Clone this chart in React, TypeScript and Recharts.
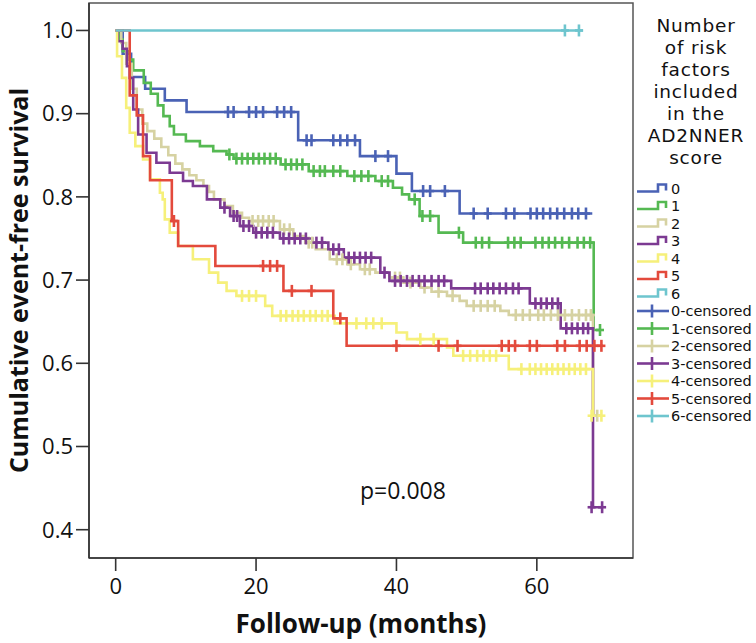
import React from 'react';
import { ComposedChart, Line, Scatter, XAxis, YAxis, ReferenceArea } from 'recharts';

// ---- data (time in months, cumulative event-free survival) ----
const groupNames = ['0', '1', '2', '3', '4', '5', '6'];
const groupColors = ['#4a62b5', '#55b952', '#d6d2a2', '#7c3a92', '#f6f07a', '#e34a3c', '#6ec5ce'];

const xTicks = [0, 20, 40, 60];
const yTicks = [0.4, 0.5, 0.6, 0.7, 0.8, 0.9, 1.0];

const legendTitle = ['Number', 'of risk', 'factors', 'included', 'in the', 'AD2NNER', 'score'];
const pValueText = 'p=0.008';

const g0Steps: [number, number][] = [
  [0, 1], [1, 0.972], [2.2, 0.944], [4.2, 0.93], [7.0, 0.916], [10.1, 0.902], [26, 0.868],
  [34.8, 0.849], [40, 0.828], [42.2, 0.807], [49, 0.78], [67.9, 0.78],
];
const g0Cens: [number, number][] = [
  [16, 0.902], [16.8, 0.902], [19, 0.902], [20, 0.902], [21, 0.902], [23, 0.902], [24, 0.902], [25, 0.902],
  [27.2, 0.868], [27.9, 0.868], [31, 0.868], [32, 0.868], [33, 0.868], [34.1, 0.868],
  [37, 0.849], [38.8, 0.849], [43.8, 0.807], [44.8, 0.807], [46.9, 0.807],
  [51, 0.78], [53, 0.78], [55.6, 0.78], [56.8, 0.78], [59.1, 0.78], [60, 0.78], [60.9, 0.78], [61.9, 0.78],
  [62.9, 0.78], [63.9, 0.78], [65, 0.78], [65.9, 0.78], [67, 0.78],
];

const g1Steps: [number, number][] = [
  [0, 1], [0.5, 0.989], [1, 0.975], [2, 0.965], [2.5, 0.952], [4, 0.937], [5, 0.924], [6, 0.91],
  [6.8, 0.897], [7.7, 0.885], [8.3, 0.875], [10, 0.867], [12, 0.861], [13.9, 0.855], [15.8, 0.851],
  [16.8, 0.846], [23.5, 0.839], [27.5, 0.831], [33, 0.825], [37, 0.819], [39.5, 0.811], [40.8, 0.803],
  [41.8, 0.797], [43.3, 0.777], [46, 0.757], [49.5, 0.745], [68.1, 0.64], [69, 0.64],
];
const g1Cens: [number, number][] = [
  [16.2, 0.851], [17.2, 0.846], [18, 0.846], [18.8, 0.846], [19.6, 0.846], [20.4, 0.846], [21.2, 0.846],
  [22, 0.846], [22.8, 0.846], [24.2, 0.839], [25, 0.839], [25.8, 0.839], [26.6, 0.839],
  [28.2, 0.831], [29.1, 0.831], [29.8, 0.831], [31, 0.831], [32, 0.831], [34, 0.825], [35, 0.825],
  [36, 0.825], [37.9, 0.819], [38.8, 0.819], [42.6, 0.797], [43.7, 0.777], [44.8, 0.777], [48.9, 0.757],
  [51.3, 0.745], [52.2, 0.745], [53.2, 0.745], [55.9, 0.745], [56.8, 0.745], [57.7, 0.745], [59.8, 0.745],
  [60.8, 0.745], [61.7, 0.745], [62.6, 0.745], [63.6, 0.745], [64.6, 0.745], [65.8, 0.745], [66.7, 0.745],
  [67.6, 0.745], [69, 0.64],
];

const g2Steps: [number, number][] = [
  [0, 1], [0.8, 0.985], [1.5, 0.96], [2.3, 0.93], [3, 0.905], [3.8, 0.888], [4.5, 0.879], [5.5, 0.87],
  [6.5, 0.86], [7.5, 0.85], [8.5, 0.84], [9.5, 0.833], [10.5, 0.826], [11.5, 0.82], [12.5, 0.813],
  [13.3, 0.806], [14, 0.797], [15.5, 0.789], [16.7, 0.781], [18, 0.775], [19, 0.771], [23.4, 0.761],
  [25.3, 0.753], [27, 0.745], [28.5, 0.737], [30.5, 0.725], [33, 0.719], [34.8, 0.713], [37, 0.709],
  [39, 0.703], [41, 0.697], [43.4, 0.691], [45, 0.686], [47.2, 0.681], [49, 0.675], [50, 0.669],
  [54.8, 0.663], [56, 0.658], [68, 0.537], [68.6, 0.537],
];
const g2Cens: [number, number][] = [
  [19.5, 0.771], [20.3, 0.771], [21, 0.771], [21.8, 0.771], [22.5, 0.771], [24, 0.761], [24.8, 0.761],
  [27.5, 0.745], [28, 0.745], [31.5, 0.725], [32.3, 0.725], [33.5, 0.719], [35.5, 0.713], [36.2, 0.713],
  [39.8, 0.703], [40.5, 0.703], [42, 0.697], [44, 0.691], [46, 0.686], [48, 0.681], [51, 0.669],
  [52, 0.669], [53, 0.669], [54, 0.669], [57, 0.658], [58, 0.658], [59, 0.658], [60.2, 0.658],
  [61, 0.658], [62, 0.658], [63, 0.658], [64, 0.658], [65, 0.658], [66, 0.658], [67, 0.658], [67.7, 0.658],
  [68.6, 0.537],
];

const g3Steps: [number, number][] = [
  [0, 1], [0.3, 0.987], [1, 0.978], [1.6, 0.957], [2, 0.943], [2.5, 0.905], [3.2, 0.875], [4.4, 0.853],
  [5.8, 0.841], [7.7, 0.829], [9.6, 0.819], [11, 0.813], [13, 0.797], [14.9, 0.787], [16.3, 0.777],
  [17.7, 0.765], [19.6, 0.757], [23.4, 0.75], [28, 0.745], [30.3, 0.737], [32.5, 0.727], [37.7, 0.709],
  [39, 0.699], [47.8, 0.69], [59, 0.672], [63.4, 0.642], [68, 0.427], [69.3, 0.427],
];
const g3Cens: [number, number][] = [
  [15.5, 0.787], [16.8, 0.777], [17.3, 0.777], [18.2, 0.765], [19, 0.765], [20, 0.757], [20.8, 0.757],
  [21.6, 0.757], [22.4, 0.757], [23.9, 0.75], [24.7, 0.75], [25.5, 0.75], [26.3, 0.75], [27.1, 0.75],
  [28.6, 0.745], [29.4, 0.745], [31, 0.737], [31.8, 0.737], [33.2, 0.727], [34, 0.727], [34.8, 0.727],
  [35.6, 0.727], [36.4, 0.727], [38.3, 0.709], [39.8, 0.699], [40.6, 0.699], [41.5, 0.699], [42.3, 0.699],
  [43.2, 0.699], [44, 0.699], [45, 0.699], [46, 0.699], [46.8, 0.699], [51.2, 0.69], [52, 0.69], [53, 0.69],
  [53.8, 0.69], [54.7, 0.69], [55.6, 0.69], [56.6, 0.69], [57.4, 0.69], [59.8, 0.672], [60.6, 0.672],
  [61.4, 0.672], [62.2, 0.672], [63, 0.672], [64.2, 0.642], [65, 0.642], [65.8, 0.642], [66.6, 0.642],
  [67.3, 0.642], [67.8, 0.427], [69.3, 0.427],
];

const g4Steps: [number, number][] = [
  [0, 1], [0.2, 0.969], [0.9, 0.943], [1.5, 0.907], [2, 0.877], [2.8, 0.861], [3.9, 0.845], [4.9, 0.821],
  [6.3, 0.805], [6.7, 0.797], [7, 0.773], [7.7, 0.757], [8.9, 0.741], [11, 0.725], [13.3, 0.709],
  [14.6, 0.697], [15.8, 0.687], [17.2, 0.681], [21.3, 0.669], [22.3, 0.657], [31.2, 0.648], [40, 0.637],
  [41.5, 0.629], [47.2, 0.619], [48.1, 0.609], [56, 0.593], [68, 0.537], [69.2, 0.537],
];
const g4Cens: [number, number][] = [
  [18, 0.681], [19, 0.681], [20, 0.681], [23.5, 0.657], [24.3, 0.657], [25.2, 0.657], [26, 0.657],
  [26.8, 0.657], [27.7, 0.657], [28.5, 0.657], [29.4, 0.657], [30.2, 0.657], [34.3, 0.648], [35.7, 0.648],
  [36.7, 0.648], [37.9, 0.648], [43.4, 0.629], [45.3, 0.629], [49.5, 0.609], [50.5, 0.609], [51.5, 0.609],
  [52.4, 0.609], [53.3, 0.609], [54.2, 0.609], [57.8, 0.593], [59, 0.593], [59.8, 0.593], [60.6, 0.593],
  [61.4, 0.593], [62.2, 0.593], [63, 0.593], [63.8, 0.593], [64.6, 0.593], [65.4, 0.593], [66.2, 0.593],
  [67, 0.593], [67.8, 0.537], [69.2, 0.537],
];

const g5Steps: [number, number][] = [
  [0, 1], [2, 0.922], [3, 0.898], [3.9, 0.849], [4.9, 0.82], [8, 0.771], [8.9, 0.741], [14.2, 0.717],
  [23.9, 0.687], [31, 0.654], [32.9, 0.621], [69.4, 0.621],
];
const g5Cens: [number, number][] = [
  [8.3, 0.771], [21, 0.717], [22, 0.717], [23, 0.717], [25.1, 0.687], [27.9, 0.687], [32, 0.654],
  [40, 0.621], [46, 0.621], [48.7, 0.621], [55, 0.621], [56, 0.621], [56.9, 0.621], [59, 0.621],
  [60, 0.621], [62.9, 0.621], [64, 0.621], [66.1, 0.621], [67.1, 0.621], [68.2, 0.621], [69.2, 0.621],
];

const g6Steps: [number, number][] = [[0, 1], [66.6, 1]];
const g6Cens: [number, number][] = [[64, 1], [66, 1]];

const allSteps = [g0Steps, g1Steps, g2Steps, g3Steps, g4Steps, g5Steps, g6Steps];
const allCens = [g0Cens, g1Cens, g2Cens, g3Cens, g4Cens, g5Cens, g6Cens];

const toPoints = (arr: [number, number][]) => arr.map(([t, s]) => ({ t, s }));

const FONT = '"Open Sans", "DejaVu Sans", sans-serif';
const LEGEND_FONT = '"DejaVu Sans", "Open Sans", sans-serif';

const makeCross = (color: string) => (props: any) => {
  const { cx, cy } = props;
  if (cx == null || cy == null) return null;
  return (
    <g>
      <line x1={cx - 4} y1={cy} x2={cx + 4} y2={cy} stroke={color} strokeWidth={2.6} />
      <line x1={cx} y1={cy - 6} x2={cx} y2={cy + 6} stroke={color} strokeWidth={2.6} />
    </g>
  );
};

const yTitle = (props: any) => {
  const vb = props.viewBox || { x: 0, y: 0, width: 0, height: 0 };
  const cy = vb.y + vb.height / 2;
  const x = 27.5;
  return (
    <text
      x={x}
      y={cy}
      transform={`rotate(-90, ${x}, ${cy})`}
      textAnchor="middle"
      fontFamily={FONT}
      fontWeight={700}
      fontSize={25}
      fill="#111"
    >
      Cumulative event-free survival
    </text>
  );
};

const xTitle = (props: any) => {
  const vb = props.viewBox || { x: 0, y: 0, width: 0, height: 0 };
  const cx = vb.x + vb.width / 2;
  return (
    <text x={cx} y={633} textAnchor="middle" fontFamily={FONT} fontWeight={700} fontSize={26} fill="#111">
      Follow-up (months)
    </text>
  );
};

export default function App() {
  const legendItems = [
    ...groupNames.map((n, i) => ({ label: n, color: groupColors[i], censored: false })),
    ...groupNames.map((n, i) => ({ label: `${n}-censored`, color: groupColors[i], censored: true })),
  ];
  return (
    <div style={{ position: 'absolute', left: 0, top: 0, width: 756, height: 643, background: '#fff' }}>
      <ComposedChart
        width={756}
        height={643}
        margin={{ top: 3, right: 123, left: 0, bottom: 0 }}
      >
        <ReferenceArea
          x1={-3.8}
          x2={73.7}
          y1={0.366}
          y2={1.033}
          fill="none"
          fillOpacity={0}
          stroke="#555"
          strokeWidth={1.5}
          ifOverflow="visible"
        />
        <XAxis
          type="number"
          dataKey="t"
          domain={[-3.8, 73.7]}
          ticks={xTicks}
          allowDataOverflow
          height={85}
          tickSize={13}
          tickMargin={7}
          axisLine={{ stroke: '#333', strokeWidth: 1.6 }}
          tickLine={{ stroke: '#333', strokeWidth: 1.6 }}
          tick={{ fill: '#111', fontSize: 22, fontFamily: FONT }}
          label={{ content: xTitle }}
        />
        <YAxis
          type="number"
          dataKey="s"
          domain={[0.366, 1.033]}
          ticks={yTicks}
          allowDataOverflow
          width={89}
          tickSize={13}
          tickMargin={3}
          tickFormatter={(v: number) => v.toFixed(1)}
          axisLine={{ stroke: '#333', strokeWidth: 1.6 }}
          tickLine={{ stroke: '#333', strokeWidth: 1.6 }}
          tick={{ fill: '#111', fontSize: 22, fontFamily: FONT }}
          label={{ content: yTitle }}
        />
        {allSteps.map((steps, i) => (
          <Line
            key={`line-${i}`}
            data={toPoints(steps)}
            dataKey="s"
            type="stepAfter"
            stroke={groupColors[i]}
            strokeWidth={2.6}
            dot={false}
            activeDot={false}
            isAnimationActive={false}
          />
        ))}
        {allCens.map((cens, i) => (
          <Scatter
            key={`cens-${i}`}
            data={toPoints(cens)}
            dataKey="s"
            shape={makeCross(groupColors[i])}
            isAnimationActive={false}
          />
        ))}
      </ComposedChart>
      <svg
        width={756}
        height={643}
        style={{ position: 'absolute', left: 0, top: 0, pointerEvents: 'none' }}
      >
        <text x={360} y={499} fontFamily={FONT} fontSize={23} fill="#111">
          {pValueText}
        </text>
        {legendTitle.map((line, i) => (
          <text
            key={`lt-${i}`}
            x={696}
            y={31.5 + i * 22}
            textAnchor="middle"
            fontFamily={LEGEND_FONT}
            fontSize={18.5}
            letterSpacing={0.8}
            fill="#111"
          >
            {line}
          </text>
        ))}
        {legendItems.map((it, i) => {
          const cy = 188.5 + i * 17.5;
          return (
            <g key={`li-${i}`}>
              {it.censored ? (
                <g>
                  <line x1={637} y1={cy} x2={669} y2={cy} stroke={it.color} strokeWidth={2.6} />
                  <line x1={652} y1={cy - 6.5} x2={652} y2={cy + 6.5} stroke={it.color} strokeWidth={2.6} />
                </g>
              ) : (
                <path
                  d={`M637 ${cy + 3} H658 V${cy - 4} H666 V${cy + 2}`}
                  fill="none"
                  stroke={it.color}
                  strokeWidth={2.6}
                />
              )}
              <text x={671} y={cy + 5.2} fontFamily={LEGEND_FONT} fontSize={14.5} fill="#111">
                {it.label}
              </text>
            </g>
          );
        })}
      </svg>
    </div>
  );
}
